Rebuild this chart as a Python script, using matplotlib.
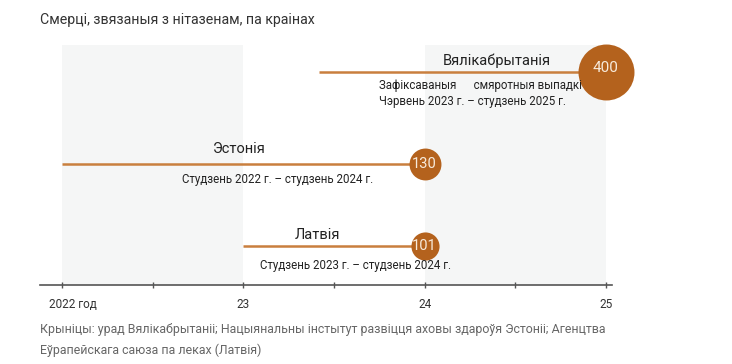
import matplotlib.pyplot as plt
from matplotlib.transforms import ScaledTranslation

# дадзеныя
krainy = ["Вялікабрытанія", "Эстонія", "Латвія"]
pachatak = [2023 + 5 / 12, 2022.0, 2023.0]
kanec = [2025.0, 2024.0, 2024.0]
smerci = [400, 130, 101]
peryjady = ["Чэрвень 2023 г. – студзень 2025 г.",
            "Студзень 2022 г. – студзень 2024 г.",
            "Студзень 2023 г. – студзень 2024 г."]
ticks = [2022, 2023, 2024, 2025]
tick_labels = ["2022 год", "23", "24", "25"]

LINE = "#c97f3e"
DOT = "#b4621d"
TXT = "#222222"
FONT = "Roboto"

fig = plt.figure(figsize=(7.32, 3.64), dpi=100)
W, H = 732, 364
ax = fig.add_axes([40 / W, (H - 285) / H, 572 / W, 240 / H])
ax.set_xlim(2022 - 22 / 181.33, 2025 + 6 / 181.33)
ax.set_ylim(0, 240)

# фонавыя палосы
for a in (2022, 2024):
    ax.axvspan(a, a + 1, color="#f5f6f6", lw=0, zorder=0)

ys = [213, 121, 39]
for i in range(3):
    ax.plot([pachatak[i], kanec[i]], [ys[i], ys[i]], color=LINE, lw=1.8, zorder=2,
            solid_capstyle="butt")
    ax.scatter([kanec[i]], [ys[i]], s=smerci[i] * 4.06, color=DOT, zorder=3,
               lw=0, clip_on=False)
    ax.text(kanec[i], ys[i] + (4 if i == 0 else 0), str(smerci[i]), color="#f7eadb",
            ha="center", va="center", fontsize=11 if i == 0 else 10.5,
            family=FONT, zorder=4)

# подпісы
ax.text(2024.40, 224, krainy[0], ha="center", va="center", fontsize=10.5,
        family=FONT, color=TXT)
ax.text(2023.748, 199, "Зафіксаваныя      смяротныя выпадкі", ha="left",
        va="center", fontsize=8.3, family=FONT, color=TXT, zorder=5)
ax.text(2023.748, 183, peryjady[0], ha="left", va="center", fontsize=8.3,
        family=FONT, color=TXT)
ax.text(2022.98, 136, krainy[1], ha="center", va="center", fontsize=10.5,
        family=FONT, color=TXT)
ax.text(2023.19, 105, peryjady[1], ha="center", va="center", fontsize=8.3,
        family=FONT, color=TXT)
ax.text(2023.41, 50, krainy[2], ha="center", va="center", fontsize=10.5,
        family=FONT, color=TXT)
ax.text(2023.62, 19, peryjady[2], ha="center", va="center", fontsize=8.3,
        family=FONT, color=TXT)

for s in ("top", "right", "left"):
    ax.spines[s].set_visible(False)
ax.spines["bottom"].set_color("#555555")
ax.spines["bottom"].set_linewidth(1.2)
ax.set_yticks([])
ax.set_xticks(ticks)
ax.set_xticks([2022.5, 2023.5, 2024.5], minor=True)
ax.tick_params(axis="x", which="both", direction="inout", length=5, width=1,
               color="#555555", pad=7)
ax.set_xticklabels(tick_labels, fontsize=8.5, family=FONT, color="#333333")
lab0 = ax.get_xticklabels()[0]
lab0.set_transform(lab0.get_transform() + ScaledTranslation(11 / 100, 0, fig.dpi_scale_trans))

fig.text(40 / W, 1 - 20 / H, "Смерці, звязаныя з нітазенам, па краінах",
         fontsize=10.2, family=FONT, color="#333333", va="center")
fig.text(40 / W, 1 - 330 / H,
         "Крыніцы: урад Вялікабрытаніі; Нацыянальны інстытут развіцця аховы здароўя Эстоніі; Агенцтва",
         fontsize=8.9, family=FONT, color="#666666", va="center")
fig.text(40 / W, 1 - 350 / H, "Еўрапейскага саюза па леках (Латвія)",
         fontsize=8.9, family=FONT, color="#666666", va="center")

fig.savefig("out.png", dpi=100)
